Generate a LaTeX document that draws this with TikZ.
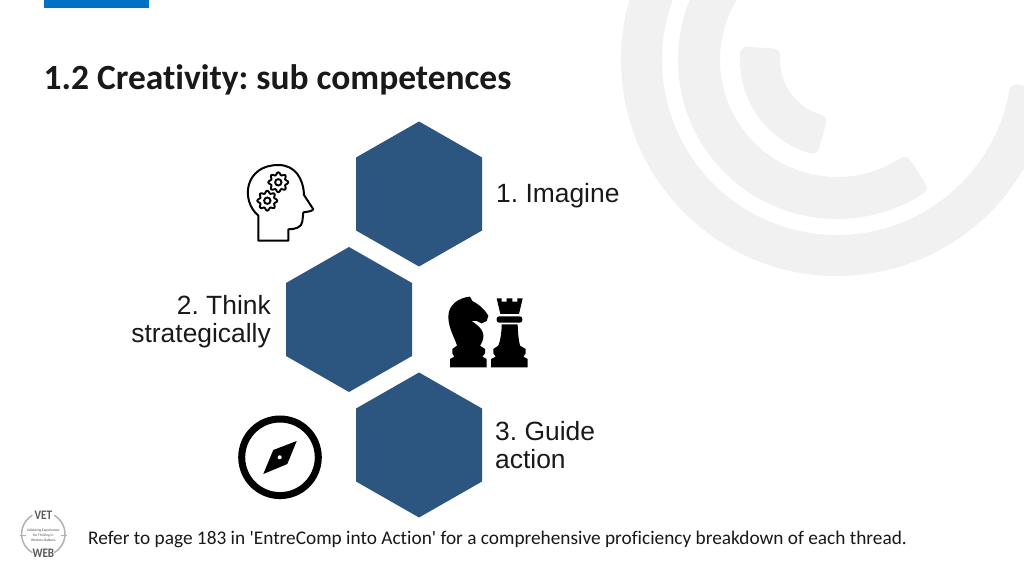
\documentclass[tikz,border=0pt]{standalone}
\usepackage{fontspec}
\newfontfamily\carl{Carlito}[Ligatures={NoCommon,NoDiscretionary,NoContextual}]
\newfontfamily\labelfont{Liberation Sans}
\usetikzlibrary{calc}
\definecolor{hexblue}{HTML}{2C5680}
\definecolor{barblue}{HTML}{0072C6}
\definecolor{wm}{HTML}{F1F1F1}
\tikzset{
  hexa/.style={fill=hexblue,draw=none},
  band/.style={fill=wm,draw=wm,line width=14pt,line join=round},
  lab/.style={font=\labelfont\fontsize{26.4}{28}\selectfont,inner sep=0pt,text=black!90},
  zoomed/.style={x=0.33333pt,y=-0.33333pt},
}
\newcommand{\hexat}[2]{\fill[hexa] (#1,#2+72.5) -- (#1+63,#2+36.5) -- (#1+63,#2-36.5) -- (#1,#2-72.5) -- (#1-63,#2-36.5) -- (#1-63,#2+36.5) -- cycle;}
\newcommand{\bandarc}[4]{\filldraw[band] ($(837,516)+(#3:#1)$) arc[start angle=#3,end angle=#4,radius=#1] -- ($(837,516)+(#4:#2)$) arc[start angle=#4,end angle=#3,radius=#2] -- cycle;}
\newcommand{\gearat}[2]{%
  \draw[line width=1.9pt,line join=round] plot[samples=49,domain=0:360,smooth] ({#1+(8.7+1.35*cos(8*\x))*cos(\x)},{#2+(8.7+1.35*cos(8*\x))*sin(\x)}) -- cycle;
  \draw[line width=1.9pt] (#1,#2) circle[radius=3.2];}
\frenchspacing
\begin{document}
\begin{tikzpicture}[x=1pt,y=1pt]
\useasboundingbox (0,0) rectangle (1024,576);
\fill[white] (0,0) rectangle (1024,576);
\begin{scope}
\clip (0,0) rectangle (1024,576);
\bandarc{209}{182}{100}{350}
\bandarc{152}{124}{100}{303}
\bandarc{90}{64}{176}{254}
\end{scope}
\fill[barblue] (44,568) rectangle (149,576);
\node[anchor=base west,inner sep=0pt,font=\carl\bfseries\fontsize{35.45}{38}\selectfont,text=black!90] (title) at (43.5,486) {1.2 Creativity: sub competences};
\hexat{419}{382}
\hexat{349}{256.5}
\hexat{419}{131}
\node[lab,anchor=base west] (l1) at (496,373) {1. Imagine};
\node[lab,anchor=east,align=right] (l2) at (271,254.5) {2. Think\\strategically};
\node[lab,anchor=west,align=left] (l3) at (495,131) {3. Guide\\action};
\node[anchor=base west,inner sep=0pt,font=\carl\fontsize{19.3}{20}\selectfont,text=black!90] (foot) at (88,32) {Refer to page 183 in 'EntreComp into Action' for a comprehensive proficiency breakdown of each thread.};
% head icon
\begin{scope}[shift={(220,426)},zoomed]
\draw[line width=2pt,line join=round] (115,272) -- (115,197) .. controls (60,150) and (75,45) .. (175,45) .. controls (225,45) and (250,85) .. (252,135) -- (280,178) .. controls (275,185) and (260,185) .. (250,187) -- (247,215) .. controls (245,232) and (225,238) .. (205,238) -- (205,272) -- cycle;
\end{scope}
\gearat{278.3}{393.7}
\gearat{267.3}{375.3}
% chess icon
\begin{scope}[shift={(435,291)},zoomed]
\fill[black] (45,247) -- (45,222) -- (58,215) -- (52,205) -- (52,192) -- (66,182) .. controls (60,160) and (40,130) .. (40,95) .. controls (40,60) and (70,38) .. (105,35) -- (112,48) .. controls (135,60) and (150,75) .. (160,92) -- (155,108) -- (140,115) -- (125,108) -- (110,108) .. controls (135,125) and (160,145) .. (135,182) -- (150,192) -- (150,205) -- (142,215) -- (155,222) -- (155,247) -- cycle;
\fill[black] (168,247) -- (168,222) -- (182,215) -- (175,205) -- (175,192) -- (190,182) .. controls (197,165) and (200,140) .. (200,118) -- (248,118) .. controls (248,140) and (251,165) .. (255,182) -- (272,192) -- (272,205) -- (265,215) -- (278,222) -- (278,247) -- cycle;
\fill[black,rounded corners=2.5pt] (185,94) rectangle (262,113);
\fill[black] (196,87) -- (192,70) -- (185,40) -- (200,40) -- (200,50) -- (215,50) -- (215,40) -- (232,40) -- (232,50) -- (247,50) -- (247,40) -- (263,40) -- (256,70) -- (252,87) -- cycle;
\end{scope}
% compass icon
\draw[line width=7pt] (280,118.7) circle[radius=38.3];
\fill[black] (296.7,135) -- (273.3,126) -- (263.3,102) -- (287.3,112) -- cycle;
\fill[white] (279.7,118.7) circle[radius=2];
% logo
\draw[gray!60,line width=1.5pt] (43.3,42) ++(60:21.7) arc[start angle=60,end angle=-60,radius=21.7];
\draw[gray!60,line width=1.5pt] (43.3,42) ++(120:21.7) arc[start angle=120,end angle=240,radius=21.7];
\draw[gray!60,line width=1pt] (19.5,40.5) -- (26,40.5) (60.5,40.5) -- (67,40.5);
\node[inner sep=0pt,xscale=.85,font=\carl\bfseries\fontsize{13}{13}\selectfont,text=black!65] (vet) at (43.3,61) {VET};
\node[inner sep=0pt,xscale=.85,font=\carl\bfseries\fontsize{13}{13}\selectfont,text=black!65] (web) at (43.3,22.5) {WEB};
\node[inner sep=0pt,align=center,font=\carl\fontsize{3.6}{5}\selectfont,text=black!70] (tag) at (43.3,41) {Validating Experiences\\for Thriving in\\Western Balkans};
\end{tikzpicture}
\end{document}
